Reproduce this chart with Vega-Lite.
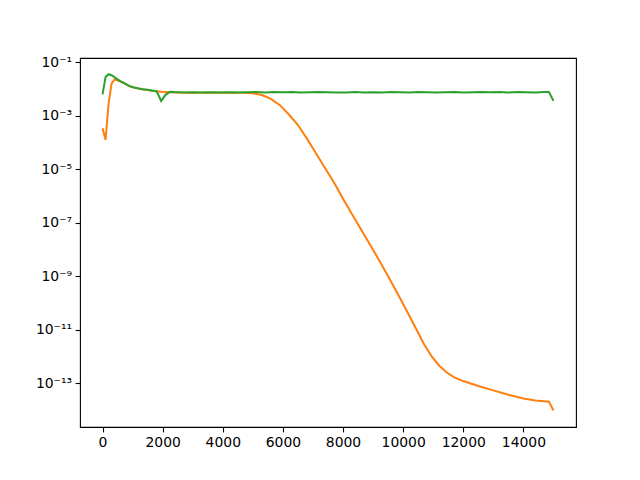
{
  "$schema": "https://vega.github.io/schema/vega-lite/v6.json",
  "width": 496,
  "height": 369,
  "autosize": {"type": "none"},
  "padding": {"left": 80, "top": 58, "right": 64, "bottom": 53},
  "background": "white",
  "config": {
    "view": {"stroke": "black", "strokeWidth": 1.1},
    "axis": {
      "grid": false,
      "domain": false,
      "labelFont": "DejaVu Sans",
      "labelFontSize": 13.9,
      "labelColor": "black",
      "tickColor": "black",
      "tickWidth": 1.1,
      "tickSize": 4.9,
      "labelPadding": 3.5,
      "title": null
    }
  },
  "data": {
    "values": [
      {"x": 0, "y": 3.4e-4, "s": "A"},
      {"x": 100, "y": 1.26e-4, "s": "A"},
      {"x": 200, "y": 2.8e-3, "s": "A"},
      {"x": 300, "y": 0.0158, "s": "A"},
      {"x": 400, "y": 0.023, "s": "A"},
      {"x": 600, "y": 0.0192, "s": "A"},
      {"x": 750, "y": 0.0158, "s": "A"},
      {"x": 900, "y": 0.0127, "s": "A"},
      {"x": 1050, "y": 0.0114, "s": "A"},
      {"x": 1200, "y": 0.0104, "s": "A"},
      {"x": 1350, "y": 0.0097, "s": "A"},
      {"x": 1500, "y": 0.0092, "s": "A"},
      {"x": 1650, "y": 0.0087, "s": "A"},
      {"x": 1800, "y": 0.0083, "s": "A"},
      {"x": 1950, "y": 0.0080, "s": "A"},
      {"x": 2100, "y": 0.0078, "s": "A"},
      {"x": 2400, "y": 0.0074, "s": "A"},
      {"x": 3000, "y": 0.0073, "s": "A"},
      {"x": 3600, "y": 0.0073, "s": "A"},
      {"x": 4200, "y": 0.0073, "s": "A"},
      {"x": 4700, "y": 0.0072, "s": "A"},
      {"x": 5000, "y": 0.0069, "s": "A"},
      {"x": 5300, "y": 0.0060, "s": "A"},
      {"x": 5600, "y": 0.0043, "s": "A"},
      {"x": 5900, "y": 0.0025, "s": "A"},
      {"x": 6200, "y": 0.00112, "s": "A"},
      {"x": 6500, "y": 4.5e-4, "s": "A"},
      {"x": 6800, "y": 1.4e-4, "s": "A"},
      {"x": 7100, "y": 4.0e-5, "s": "A"},
      {"x": 7400, "y": 1.12e-5, "s": "A"},
      {"x": 7700, "y": 3.2e-6, "s": "A"},
      {"x": 8000, "y": 7.9e-7, "s": "A"},
      {"x": 8300, "y": 2.1e-7, "s": "A"},
      {"x": 8600, "y": 5.6e-8, "s": "A"},
      {"x": 8900, "y": 1.5e-8, "s": "A"},
      {"x": 9200, "y": 4.0e-9, "s": "A"},
      {"x": 9500, "y": 1.0e-9, "s": "A"},
      {"x": 9800, "y": 2.4e-10, "s": "A"},
      {"x": 10100, "y": 5.6e-11, "s": "A"},
      {"x": 10400, "y": 1.26e-11, "s": "A"},
      {"x": 10700, "y": 2.8e-12, "s": "A"},
      {"x": 10950, "y": 1.0e-12, "s": "A"},
      {"x": 11200, "y": 4.5e-13, "s": "A"},
      {"x": 11450, "y": 2.5e-13, "s": "A"},
      {"x": 11700, "y": 1.66e-13, "s": "A"},
      {"x": 12000, "y": 1.2e-13, "s": "A"},
      {"x": 12500, "y": 7.9e-14, "s": "A"},
      {"x": 13000, "y": 5.4e-14, "s": "A"},
      {"x": 13500, "y": 3.7e-14, "s": "A"},
      {"x": 14000, "y": 2.7e-14, "s": "A"},
      {"x": 14400, "y": 2.24e-14, "s": "A"},
      {"x": 14850, "y": 2.04e-14, "s": "A"},
      {"x": 15000, "y": 9.5e-15, "s": "A"},

      {"x": 0, "y": 0.0063, "s": "B"},
      {"x": 100, "y": 0.028, "s": "B"},
      {"x": 200, "y": 0.036, "s": "B"},
      {"x": 300, "y": 0.033, "s": "B"},
      {"x": 450, "y": 0.025, "s": "B"},
      {"x": 600, "y": 0.0195, "s": "B"},
      {"x": 750, "y": 0.016, "s": "B"},
      {"x": 900, "y": 0.0128, "s": "B"},
      {"x": 1050, "y": 0.0115, "s": "B"},
      {"x": 1200, "y": 0.0105, "s": "B"},
      {"x": 1350, "y": 0.0098, "s": "B"},
      {"x": 1500, "y": 0.0094, "s": "B"},
      {"x": 1650, "y": 0.0089, "s": "B"},
      {"x": 1800, "y": 0.0083, "s": "B"},
      {"x": 1950, "y": 0.0036, "s": "B"},
      {"x": 2100, "y": 0.0062, "s": "B"},
      {"x": 2250, "y": 0.0079, "s": "B"},
      {"x": 2400, "y": 0.0077, "s": "B"},
      {"x": 2700, "y": 0.0075, "s": "B"},
      {"x": 3000, "y": 0.0076, "s": "B"},
      {"x": 3300, "y": 0.0075, "s": "B"},
      {"x": 3600, "y": 0.0076, "s": "B"},
      {"x": 3900, "y": 0.0075, "s": "B"},
      {"x": 4200, "y": 0.0076, "s": "B"},
      {"x": 4500, "y": 0.0075, "s": "B"},
      {"x": 4800, "y": 0.0076, "s": "B"},
      {"x": 5100, "y": 0.0078, "s": "B"},
      {"x": 5400, "y": 0.0075, "s": "B"},
      {"x": 5700, "y": 0.0077, "s": "B"},
      {"x": 6000, "y": 0.0076, "s": "B"},
      {"x": 6300, "y": 0.0077, "s": "B"},
      {"x": 6600, "y": 0.0075, "s": "B"},
      {"x": 6900, "y": 0.0076, "s": "B"},
      {"x": 7200, "y": 0.0078, "s": "B"},
      {"x": 7500, "y": 0.0076, "s": "B"},
      {"x": 7800, "y": 0.0074, "s": "B"},
      {"x": 8100, "y": 0.0075, "s": "B"},
      {"x": 8400, "y": 0.0077, "s": "B"},
      {"x": 8700, "y": 0.0075, "s": "B"},
      {"x": 9000, "y": 0.0076, "s": "B"},
      {"x": 9300, "y": 0.0075, "s": "B"},
      {"x": 9600, "y": 0.0077, "s": "B"},
      {"x": 9900, "y": 0.0076, "s": "B"},
      {"x": 10200, "y": 0.0075, "s": "B"},
      {"x": 10500, "y": 0.0077, "s": "B"},
      {"x": 10800, "y": 0.0076, "s": "B"},
      {"x": 11100, "y": 0.0075, "s": "B"},
      {"x": 11400, "y": 0.0076, "s": "B"},
      {"x": 11700, "y": 0.0077, "s": "B"},
      {"x": 12000, "y": 0.0075, "s": "B"},
      {"x": 12300, "y": 0.0076, "s": "B"},
      {"x": 12600, "y": 0.0078, "s": "B"},
      {"x": 12900, "y": 0.0076, "s": "B"},
      {"x": 13200, "y": 0.0077, "s": "B"},
      {"x": 13500, "y": 0.0075, "s": "B"},
      {"x": 13800, "y": 0.0077, "s": "B"},
      {"x": 14100, "y": 0.0076, "s": "B"},
      {"x": 14400, "y": 0.0075, "s": "B"},
      {"x": 14700, "y": 0.0077, "s": "B"},
      {"x": 14850, "y": 0.0078, "s": "B"},
      {"x": 15000, "y": 0.0036, "s": "B"}
    ]
  },
  "mark": {"type": "line", "strokeWidth": 2, "clip": true},
  "encoding": {
    "x": {
      "field": "x",
      "type": "quantitative",
      "scale": {"domain": [-750, 15750], "nice": false, "zero": false},
      "axis": {"values": [0, 2000, 4000, 6000, 8000, 10000, 12000, 14000], "format": "d"}
    },
    "y": {
      "field": "y",
      "type": "quantitative",
      "scale": {"type": "log", "domain": [2.3e-15, 0.145], "nice": false},
      "axis": {
        "values": [0.1, 0.001, 1e-5, 1e-7, 1e-9, 1e-11, 1e-13],
        "labelExpr": "['10⁻¹','10⁻³','10⁻⁵','10⁻⁷','10⁻⁹','10⁻¹¹','10⁻¹³'][(-round(log(datum.value)/LN10)-1)/2]"
      }
    },
    "color": {
      "field": "s",
      "type": "nominal",
      "scale": {"domain": ["A", "B"], "range": ["#ff7f0e", "#2ca02c"]},
      "legend": null
    },
    "order": {"field": "x", "type": "quantitative"}
  }
}
